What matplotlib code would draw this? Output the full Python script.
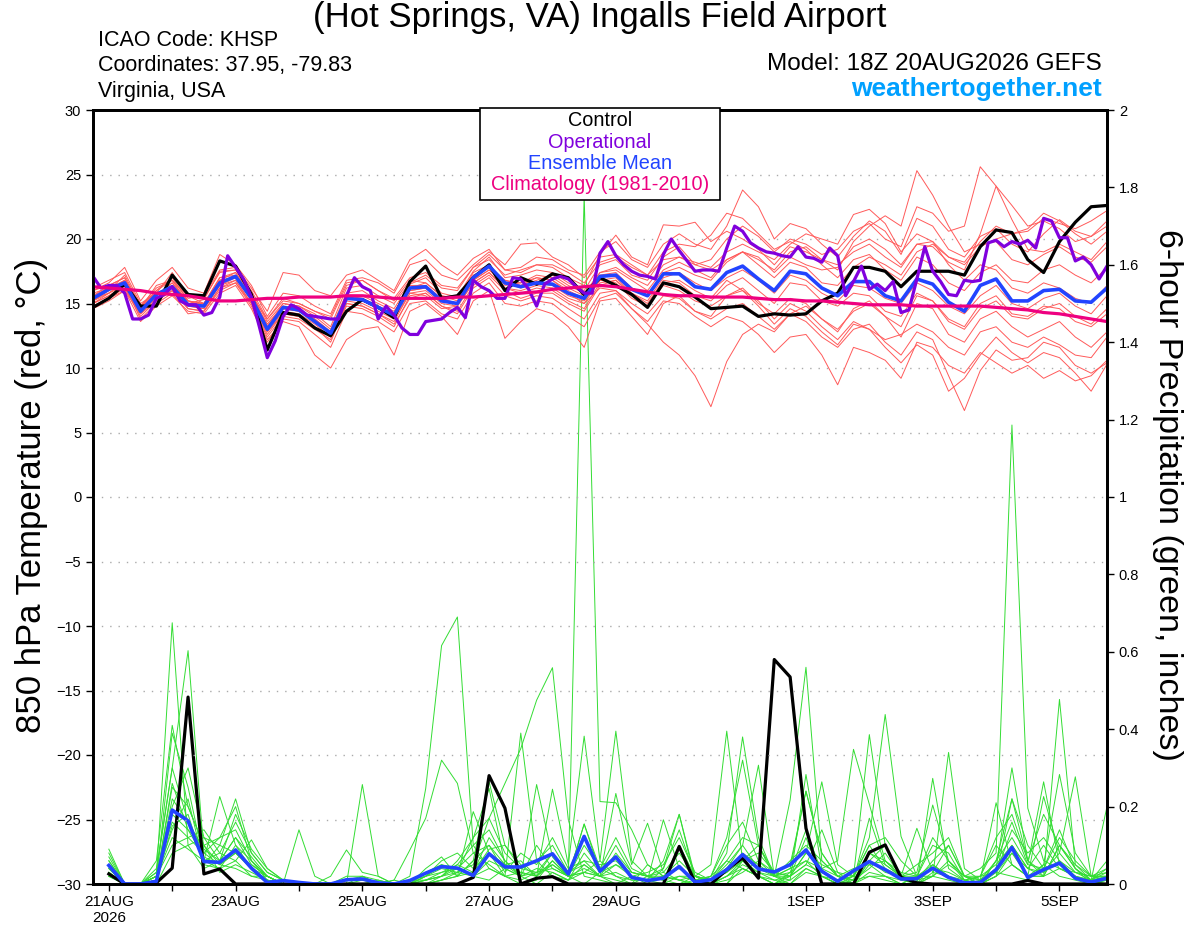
import numpy as np
import pandas as pd
import matplotlib
matplotlib.use("Agg")
import matplotlib.pyplot as plt
from matplotlib.patches import Rectangle

plt.rcParams['font.family'] = ['Liberation Sans', 'DejaVu Sans']

# ---- time axes (GEFS 18Z 20AUG2026 run) ----
times_6h = pd.date_range("2026-08-20 18:00", periods=65, freq="6h")
times_3h = pd.date_range("2026-08-20 18:00", periods=129, freq="3h")
times_pcp = times_6h[1:]

tick_days = pd.date_range("2026-08-21", "2026-09-05", freq="D")
tick_labels = ["21AUG\n2026", "", "23AUG", "", "25AUG", "", "27AUG", "", "29AUG",
               "", "", "1SEP", "", "3SEP", "", "5SEP"]
temp_ticks = [-30, -25, -20, -15, -10, -5, 0, 5, 10, 15, 20, 25, 30]
pcp_ticks = [0, 0.2, 0.4, 0.6, 0.8, 1.0, 1.2, 1.4, 1.6, 1.8, 2.0]
pcp_tick_labels = ["0", "0.2", "0.4", "0.6", "0.8", "1", "1.2", "1.4", "1.6", "1.8", "2"]

# ---- 850 hPa temperature (C) ----
control_t = [14.7, 15.4, 16.5, 14.8, 14.8, 17.2, 15.7, 15.6, 18.3, 17.9, 15.7,
             11.4, 14.3, 14.1, 13.1, 12.5, 14.4, 15.3, 14.7, 13.9, 16.7, 17.9,
             15.4, 15.6, 17.0, 18.0, 16.0, 17.0, 16.5, 17.3, 17.0, 15.7, 17.0,
             16.4, 15.7, 14.7, 16.6, 16.3, 15.5, 14.6, 14.7, 14.8, 14.0, 14.2,
             14.1, 14.2, 15.2, 15.8, 17.8, 17.8, 17.5, 16.3, 17.5, 17.5, 17.5,
             17.2, 19.4, 20.7, 20.5, 18.4, 17.4, 19.8, 21.3, 22.5, 22.6]

mean_t = [15.4, 16.1, 16.6, 14.4, 15.7, 16.3, 14.9, 14.8, 16.6, 17.1, 15.4,
          13.0, 14.7, 14.5, 13.6, 12.7, 15.4, 15.3, 14.7, 14.1, 16.2, 16.3,
          15.2, 15.0, 17.0, 17.9, 16.6, 16.3, 16.6, 16.5, 15.8, 15.4, 17.1,
          17.2, 16.1, 15.6, 17.3, 17.3, 16.3, 16.1, 17.4, 17.9, 16.9, 16.0,
          17.5, 17.3, 16.2, 15.6, 16.7, 16.7, 15.6, 15.2, 16.9, 16.5, 15.1,
          14.4, 16.4, 16.9, 15.2, 15.2, 16.0, 16.1, 15.2, 15.1, 16.2]

clim_t = [16.3, 16.2, 16.1, 16.0, 15.8, 15.7, 15.6, 15.4, 15.2, 15.2, 15.3,
          15.4, 15.4, 15.5, 15.5, 15.5, 15.6, 15.6, 15.5, 15.4, 15.4, 15.4,
          15.4, 15.5, 15.5, 15.6, 15.7, 15.8, 15.9, 16.1, 16.2, 16.3, 16.4,
          16.3, 16.1, 15.9, 15.7, 15.6, 15.6, 15.5, 15.5, 15.5, 15.4, 15.3,
          15.3, 15.2, 15.2, 15.1, 15.0, 14.9, 14.9, 14.9, 14.8, 14.8, 14.8,
          14.8, 14.8, 14.7, 14.6, 14.5, 14.3, 14.2, 14.0, 13.8, 13.6]

# operational GFS, 3-hourly
oper_t = [17.1, 16.2, 16.4, 16.4, 15.8, 13.8, 13.8, 14.1, 15.4, 15.7,
          16.3, 15.2, 14.9, 14.9, 14.1, 14.3, 15.5, 18.7, 17.8, 16.9,
          15.5, 13.2, 10.8, 12.1, 14.0, 14.9, 14.6, 14.1, 14.0, 13.9,
          13.8, 13.8, 15.6, 17.0, 16.3, 16.0, 13.8, 14.8, 14.1, 13.1,
          12.6, 12.6, 13.6, 13.7, 13.8, 14.3, 14.7, 13.9, 16.8, 16.3,
          16.0, 15.4, 15.4, 17.0, 16.9, 16.1, 14.8, 16.5, 16.9, 17.1,
          16.9, 16.3, 15.8, 15.8, 18.9, 19.8, 18.7, 18.0, 17.5, 17.2,
          17.1, 16.9, 18.8, 20.0, 19.1, 18.3, 17.5, 17.6, 17.6, 17.5,
          19.3, 21.0, 20.6, 19.7, 19.3, 19.0, 18.9, 18.7, 18.6, 19.4,
          18.6, 18.5, 18.2, 19.3, 18.7, 15.6, 16.7, 17.9, 16.1, 16.5,
          16.0, 16.7, 14.3, 14.5, 16.9, 19.4, 17.5, 16.7, 15.7, 15.6,
          16.8, 16.7, 16.8, 19.7, 19.9, 19.4, 19.8, 19.6, 19.9, 19.3,
          21.6, 21.4, 20.1, 20.1, 18.3, 18.6, 18.0, 16.9, 17.9]

member_t = [
    [15.2, 16.0, 17.2, 14.8, 16.0, 16.8, 15.0, 15.3, 17.5, 17.6, 15.8,
     13.2, 15.0, 14.8, 14.0, 13.0, 15.8, 16.0, 15.2, 14.6, 16.5, 17.0,
     15.8, 15.5, 17.5, 18.6, 17.0, 17.2, 17.6, 17.4, 16.6, 16.0, 18.0,
     18.4, 17.2, 16.8, 18.6, 19.4, 18.0, 18.4, 20.0, 21.0, 20.2, 19.0,
     20.0, 19.6, 18.8, 19.2, 20.6, 21.2, 20.0, 19.4, 22.5, 22.0, 20.6,
     21.0, 25.6, 24.1, 22.6, 21.0, 21.4, 20.8, 19.8, 20.2, 21.0],
    [15.0, 15.6, 16.2, 14.2, 15.2, 16.0, 14.6, 14.4, 16.2, 16.8, 15.0,
     12.4, 14.0, 13.8, 13.0, 12.2, 14.8, 14.6, 14.0, 13.2, 15.6, 15.8,
     14.8, 14.2, 16.2, 17.0, 15.6, 15.2, 15.6, 15.4, 14.6, 13.8, 15.8,
     16.0, 15.0, 14.2, 15.6, 15.4, 14.4, 13.8, 14.6, 15.0, 14.0, 13.0,
     14.2, 13.6, 12.4, 11.6, 13.0, 13.4, 12.0, 11.0, 12.8, 12.2, 9.4,
     6.7, 9.8, 11.4, 10.6, 10.8, 12.0, 11.6, 10.2, 9.6, 10.4],
    [16.2, 16.8, 17.4, 15.0, 15.8, 17.4, 15.6, 15.0, 17.0, 17.2, 15.6,
     13.8, 15.4, 15.0, 14.4, 13.8, 16.4, 16.8, 16.0, 15.2, 16.8, 16.6,
     15.6, 15.2, 17.4, 18.0, 16.4, 16.6, 17.0, 16.8, 15.8, 15.0, 16.2,
     16.0, 14.6, 13.4, 12.0, 11.0, 9.4, 7.0, 10.5, 12.6, 13.4, 12.8,
     14.2, 14.8, 13.8, 13.0, 14.4, 15.0, 14.0, 13.2, 15.6, 15.2, 13.6,
     13.0, 14.6, 15.2, 14.0, 13.8, 14.6, 15.0, 14.0, 13.4, 14.6],
    [15.6, 16.4, 17.0, 14.6, 16.4, 16.8, 15.4, 15.6, 17.6, 17.8, 16.2,
     14.4, 17.4, 17.2, 16.0, 15.6, 17.2, 17.6, 16.8, 16.0, 18.4, 19.2,
     18.0, 17.2, 18.5, 19.2, 17.6, 17.8, 18.6, 18.4, 17.6, 17.2, 19.0,
     19.8, 18.4, 17.8, 19.6, 20.4, 19.6, 19.2, 21.0, 23.8, 22.5, 20.0,
     21.2, 20.8, 19.6, 18.6, 20.2, 21.4, 20.6, 18.8, 21.6, 21.0, 19.2,
     18.6, 20.2, 20.8, 19.6, 19.0, 20.4, 21.5, 20.6, 20.2, 21.4],
    [15.0, 15.8, 16.4, 13.8, 15.0, 15.8, 14.2, 14.4, 16.0, 16.6, 14.8,
     12.2, 13.6, 13.2, 11.0, 10.0, 12.2, 13.0, 13.2, 11.0, 14.4, 15.0,
     14.0, 12.6, 15.2, 16.0, 12.3, 13.6, 14.6, 14.2, 13.2, 11.6, 15.2,
     15.4, 14.0, 12.6, 15.0, 15.6, 14.4, 14.0, 15.6, 16.2, 15.0, 14.2,
     15.4, 15.0, 13.8, 12.8, 14.6, 15.2, 14.0, 12.4, 15.0, 14.6, 12.6,
     12.0, 13.8, 14.4, 13.2, 12.4, 13.0, 13.6, 12.4, 11.6, 12.8],
    [15.8, 16.2, 16.8, 14.8, 15.6, 16.6, 15.2, 14.8, 16.8, 17.4, 15.6,
     13.4, 14.8, 14.6, 13.8, 12.8, 15.6, 15.4, 14.8, 14.2, 16.4, 16.4,
     15.4, 15.0, 17.0, 17.8, 16.8, 16.4, 16.8, 17.2, 16.4, 15.8, 17.4,
     17.6, 16.8, 16.0, 17.6, 18.2, 17.6, 17.0, 18.4, 19.0, 18.6, 17.4,
     18.6, 18.0, 17.6, 17.8, 19.4, 20.0, 19.2, 18.0, 19.6, 19.8, 18.6,
     18.2, 19.8, 21.0, 20.4, 20.6, 21.6, 21.2, 20.8, 21.4, 22.2],
    [14.6, 15.2, 16.0, 14.2, 15.8, 16.2, 14.8, 14.6, 16.4, 16.8, 15.0,
     12.8, 14.2, 14.0, 13.2, 12.4, 15.0, 14.8, 14.2, 13.6, 15.8, 15.6,
     14.6, 14.8, 16.6, 17.4, 16.2, 15.8, 16.2, 16.0, 15.2, 14.6, 16.6,
     16.8, 15.6, 14.8, 16.4, 16.0, 15.2, 14.8, 15.6, 16.0, 15.2, 13.8,
     15.0, 14.4, 13.2, 12.2, 13.6, 13.0, 11.6, 10.4, 11.8, 11.0, 8.2,
     9.2, 11.0, 12.4, 11.2, 10.4, 11.2, 10.8, 9.6, 8.2, 10.3],
    [15.4, 15.8, 16.6, 14.4, 15.4, 16.4, 15.0, 15.0, 16.8, 17.0, 15.4,
     13.0, 14.6, 14.4, 13.6, 12.8, 15.4, 15.2, 14.6, 14.0, 16.0, 16.2,
     15.2, 15.0, 16.8, 17.6, 16.6, 16.4, 17.0, 16.8, 16.0, 15.4, 17.2,
     17.4, 16.2, 15.6, 17.4, 17.8, 17.2, 16.8, 18.2, 19.0, 18.4, 17.6,
     19.0, 19.4, 18.4, 17.6, 19.8, 21.0, 21.8, 21.0, 25.3, 23.4, 21.0,
     19.0, 19.6, 19.8, 18.4, 18.0, 18.8, 19.4, 18.6, 18.2, 19.4],
    [16.0, 16.6, 17.8, 15.2, 16.8, 17.8, 16.2, 15.8, 18.8, 18.0, 16.4,
     14.0, 15.8, 15.6, 14.8, 14.2, 16.8, 17.0, 16.6, 15.8, 18.0, 18.4,
     17.2, 16.8, 18.0, 19.0, 18.0, 19.6, 19.7, 18.6, 18.0, 17.0, 18.6,
     18.8, 18.0, 17.2, 19.0, 19.6, 19.4, 20.3, 22.0, 21.6, 20.4, 19.2,
     19.8, 19.2, 18.0, 17.0, 18.4, 18.8, 17.6, 16.8, 18.6, 18.0, 16.6,
     16.0, 17.4, 18.0, 16.8, 16.6, 17.6, 18.0, 17.2, 16.6, 17.8],
    [14.8, 15.4, 16.0, 13.6, 14.8, 15.6, 14.4, 14.2, 15.8, 16.4, 14.6,
     12.0, 13.8, 13.6, 12.6, 11.6, 14.4, 14.2, 13.6, 12.8, 15.0, 15.2,
     14.2, 13.8, 15.8, 16.6, 15.0, 14.8, 15.2, 15.0, 14.0, 13.2, 15.4,
     15.8, 14.6, 13.6, 15.2, 15.0, 14.0, 13.2, 14.0, 13.6, 12.6, 11.2,
     12.4, 12.6, 11.0, 8.7, 11.6, 11.2, 10.6, 9.2, 12.0, 11.6, 10.2,
     9.6, 11.2, 10.4, 9.6, 10.2, 9.2, 9.8, 9.0, 9.4, 10.6],
    [15.2, 15.8, 16.8, 14.6, 16.0, 17.0, 15.2, 15.0, 17.0, 17.4, 15.8,
     13.6, 15.0, 14.8, 14.2, 13.2, 16.2, 16.4, 15.6, 15.0, 16.6, 17.2,
     16.2, 16.0, 17.8, 18.4, 17.2, 17.6, 18.0, 17.8, 17.0, 16.4, 18.8,
     20.3, 18.6, 18.0, 21.1, 21.0, 21.3, 19.8, 20.6, 20.0, 19.2, 18.0,
     19.4, 19.0, 18.4, 18.0, 19.0, 19.6, 18.6, 17.8, 19.6, 19.4, 18.2,
     17.6, 20.4, 24.1, 21.5, 19.2, 19.0, 19.6, 19.0, 18.4, 19.8],
    [15.6, 16.2, 16.6, 14.2, 15.4, 16.2, 14.8, 14.6, 16.4, 17.0, 15.2,
     12.8, 14.4, 14.2, 13.4, 12.4, 15.2, 15.0, 14.4, 13.8, 15.8, 16.0,
     15.0, 14.8, 16.6, 17.4, 16.2, 16.0, 16.4, 16.2, 15.4, 15.0, 16.8,
     17.0, 15.8, 15.0, 16.8, 16.6, 15.6, 15.2, 16.4, 17.0, 16.0, 15.0,
     16.6, 16.4, 15.2, 14.8, 15.8, 15.6, 14.4, 14.0, 15.8, 15.2, 13.8,
     13.2, 15.0, 15.6, 14.2, 14.0, 14.8, 14.6, 13.6, 13.2, 14.2],
    [15.0, 15.6, 16.4, 14.4, 15.6, 16.6, 15.0, 14.8, 16.6, 17.2, 15.4,
     13.2, 14.6, 14.4, 13.8, 12.8, 15.6, 15.6, 15.0, 14.4, 16.2, 16.6,
     15.6, 15.4, 17.2, 17.8, 16.8, 16.6, 17.2, 17.0, 16.2, 15.6, 17.4,
     17.8, 17.0, 16.4, 18.0, 18.6, 18.2, 17.8, 19.0, 19.6, 19.0, 18.4,
     19.6, 20.4, 20.0, 19.6, 21.9, 22.3, 21.2, 19.0, 20.4, 19.8, 18.0,
     16.8, 18.0, 17.6, 16.2, 15.8, 16.6, 16.2, 15.4, 15.0, 16.4],
    [15.4, 16.0, 16.8, 14.6, 15.8, 16.4, 15.2, 15.0, 16.8, 17.0, 15.4,
     13.4, 14.8, 14.4, 13.6, 12.8, 15.4, 15.2, 14.8, 14.0, 16.0, 16.2,
     15.2, 15.0, 16.8, 17.6, 16.6, 16.2, 16.6, 16.4, 15.6, 15.2, 16.8,
     16.6, 15.4, 14.8, 16.6, 16.8, 16.0, 15.4, 16.8, 16.0, 14.8, 13.4,
     14.6, 14.0, 12.8, 11.8, 13.4, 13.0, 12.2, 12.6, 13.4, 12.8, 11.6,
     11.0, 12.8, 13.2, 12.0, 11.6, 12.4, 11.8, 11.0, 10.8, 12.4],
    [16.0, 16.4, 17.0, 14.8, 16.2, 16.8, 15.6, 15.4, 17.4, 17.6, 16.0,
     13.8, 15.2, 15.0, 14.4, 14.0, 16.6, 16.8, 16.0, 15.4, 17.0, 17.4,
     16.4, 16.2, 17.8, 18.8, 17.6, 17.4, 18.0, 18.0, 17.4, 16.6, 18.2,
     18.6, 17.8, 17.2, 18.4, 18.6, 18.0, 17.6, 18.4, 19.0, 18.0, 17.0,
     18.2, 17.8, 16.6, 16.4, 17.8, 18.6, 18.0, 17.2, 19.0, 19.6, 18.6,
     18.0, 19.4, 20.0, 20.4, 20.8, 22.0, 21.4, 20.4, 19.6, 20.6],
    [14.8, 15.4, 16.2, 14.0, 15.2, 16.0, 14.6, 14.4, 16.2, 16.6, 15.0,
     12.6, 14.2, 14.0, 13.2, 12.0, 15.0, 14.8, 14.2, 13.4, 15.4, 15.8,
     14.8, 14.4, 16.4, 17.2, 16.0, 15.4, 15.8, 15.8, 15.0, 14.4, 16.4,
     16.8, 15.8, 15.2, 17.0, 17.4, 16.6, 16.0, 17.0, 17.6, 16.8, 15.8,
     17.2, 16.8, 15.8, 15.2, 16.4, 16.2, 15.4, 15.0, 16.6, 16.0, 14.8,
     14.2, 15.6, 16.4, 15.0, 14.6, 15.4, 15.8, 14.8, 14.2, 15.6],
]

# ---- 6-hour precipitation (inches), valid 00Z 21AUG onward ----
control_p = [0.026, 0, 0, 0.003, 0.041, 0.483, 0.026, 0.039, 0, 0, 0, 0, 0, 0, 0, 0,
             0, 0, 0, 0, 0, 0, 0, 0.017, 0.28, 0.196, 0, 0.015, 0.019, 0, 0, 0,
             0, 0, 0, 0, 0.097, 0.003, 0, 0.037, 0.067, 0.015, 0.58, 0.535, 0.144, 0, 0, 0,
             0.082, 0.101, 0.017, 0.003, 0, 0, 0, 0, 0, 0, 0.009, 0, 0, 0, 0, 0]

mean_p = [0.048, 0, 0, 0.007, 0.191, 0.163, 0.058, 0.056, 0.088, 0.041, 0.004, 0.009, 0.004, 0, 0, 0.011,
          0.013, 0.003, 0, 0.009, 0.028, 0.045, 0.041, 0.022, 0.078, 0.044, 0.044, 0.060, 0.078, 0.026, 0.123, 0.033,
          0.070, 0.017, 0.009, 0.015, 0.045, 0.005, 0.011, 0.037, 0.076, 0.039, 0.031, 0.050, 0.088, 0.033, 0.007, 0.034,
          0.058, 0.037, 0.013, 0.014, 0.041, 0.017, 0.003, 0.004, 0.037, 0.094, 0.017, 0.037, 0.054, 0.015, 0.005, 0.015]

member_p = [
    [0.05, 0, 0, 0.02, 0.675, 0.1, 0.04, 0.06, 0.12, 0.05, 0.02, 0, 0, 0, 0, 0,
     0, 0, 0, 0, 0, 0.02, 0.05, 0.03, 0.12, 0.06, 0.02, 0, 0.03, 0.01, 0.05, 0.02,
     0, 0, 0, 0.04, 0.18, 0.02, 0, 0, 0.06, 0.1, 0.02, 0, 0.04, 0.02, 0, 0,
     0.05, 0.02, 0, 0, 0.03, 0.1, 0.02, 0, 0.04, 0.3, 0.06, 0.02, 0.1, 0.04, 0, 0.02],
    [0.08, 0, 0, 0.04, 0.3, 0.603, 0.08, 0.12, 0.2, 0.06, 0.01, 0, 0, 0, 0, 0,
     0.02, 0, 0, 0, 0.04, 0.07, 0.02, 0.06, 0.264, 0.1, 0.04, 0.03, 0.08, 0.02, 0.155, 0.04,
     0.02, 0, 0.05, 0.02, 0.01, 0, 0.02, 0.12, 0.32, 0.1, 0.03, 0.05, 0.24, 0.08, 0.02, 0,
     0.06, 0.03, 0.02, 0, 0.05, 0.02, 0, 0.02, 0.1, 0.05, 0.02, 0.226, 0.08, 0.03, 0.01, 0.04],
    [0.03, 0, 0, 0.06, 0.41, 0.2, 0.1, 0.05, 0.08, 0.04, 0.02, 0, 0.14, 0.02, 0, 0,
     0, 0, 0, 0.02, 0.247, 0.616, 0.69, 0.1, 0.04, 0.02, 0, 0.01, 0.06, 0.02, 0, 0.03,
     0.05, 0.02, 0, 0, 0.02, 0.01, 0, 0, 0.04, 0.02, 0, 0.03, 0.06, 0.02, 0, 0.01,
     0.17, 0.05, 0.02, 0, 0.02, 0.06, 0.01, 0, 0.02, 0.08, 0.04, 0.1, 0.04, 0.02, 0, 0.01],
    [0.06, 0, 0, 0.01, 0.39, 0.25, 0.06, 0.226, 0.1, 0.04, 0.01, 0, 0, 0, 0, 0.02,
     0.02, 0, 0.01, 0.088, 0.17, 0.32, 0.26, 0.08, 0.05, 0.02, 0.39, 0.06, 0.02, 0.01, 0.03, 0.02,
     0.01, 0, 0.02, 0.01, 0, 0.02, 0.05, 0.395, 0.06, 0.02, 0, 0.02, 0.05, 0.14, 0.03, 0,
     0.02, 0.01, 0, 0.02, 0.05, 0.02, 0, 0.01, 0.21, 0.05, 0.02, 0.02, 0.477, 0.05, 0.01, 0],
    [0.04, 0, 0, 0.02, 0.2, 0.3, 0.12, 0.1, 0.22, 0.08, 0.03, 0.01, 0, 0, 0, 0,
     0, 0, 0, 0, 0.01, 0.02, 0.03, 0.12, 0.17, 0.26, 0.35, 0.475, 0.559, 0.166, 0.02, 0.01,
     0, 0.02, 0.01, 0, 0, 0.01, 0, 0.02, 0.06, 0.03, 0.01, 0, 0.03, 0.02, 0, 0.02,
     0.386, 0.1, 0.02, 0, 0.02, 0.01, 0, 0, 0.03, 0.02, 0.01, 0.05, 0.02, 0.01, 0, 0.02],
    [0.02, 0, 0, 0.01, 0.15, 0.18, 0.05, 0.04, 0.06, 0.114, 0.04, 0.01, 0, 0, 0, 0,
     0.257, 0.02, 0, 0, 0.02, 0.04, 0.03, 0.02, 0.06, 0.04, 0.02, 0.03, 0.05, 0.02, 1.78, 0.213,
     0.21, 0.14, 0.05, 0.02, 0.01, 0, 0, 0.02, 0.04, 0.02, 0, 0.01, 0.04, 0.02, 0, 0,
     0.03, 0.02, 0, 0.02, 0.04, 0.02, 0, 0, 0.02, 0.05, 0.02, 0.02, 0.04, 0.02, 0, 0.01],
    [0.05, 0, 0, 0.02, 0.1, 0.12, 0.08, 0.05, 0.04, 0.02, 0.01, 0, 0, 0, 0.02, 0.088,
     0.03, 0.02, 0, 0, 0, 0.01, 0.02, 0.187, 0.08, 0.02, 0.03, 0.02, 0.245, 0.05, 0.382, 0.06,
     0.395, 0.06, 0.02, 0.01, 0.02, 0.02, 0.01, 0.08, 0.38, 0.12, 0.02, 0.01, 0.283, 0.04, 0.02, 0.01,
     0.02, 0.02, 0.01, 0, 0.273, 0.04, 0.01, 0, 0.06, 0.12, 0.05, 0.264, 0.05, 0.02, 0.01, 0.2],
    [0.02, 0, 0, 0.01, 0.25, 0.2, 0.1, 0.03, 0.05, 0.03, 0.01, 0, 0, 0, 0, 0,
     0, 0, 0, 0.01, 0.02, 0.03, 0.04, 0.02, 0.01, 0.04, 0.02, 0.257, 0.07, 0.02, 0.04, 0.02,
     0.234, 0.05, 0.157, 0.03, 0.01, 0.02, 0.01, 0.04, 0.1, 0.307, 0.02, 0.217, 0.56, 0.06, 0.02, 0.01,
     0.08, 0.05, 0.02, 0.01, 0.02, 0.34, 0.04, 0.01, 0.03, 0.08, 0.02, 0.05, 0.283, 0.08, 0.02, 0.03],
    [0.09, 0, 0, 0.02, 0.18, 0.14, 0.07, 0.05, 0.08, 0.05, 0.02, 0, 0, 0, 0, 0.01,
     0.02, 0.01, 0, 0, 0.02, 0.05, 0.04, 0.02, 0.04, 0.02, 0.01, 0.03, 0.04, 0.02, 0.03, 0.06,
     0.02, 0.01, 0.01, 0.166, 0.04, 0.01, 0.02, 0.06, 0.04, 0.02, 0.01, 0.02, 0.08, 0.264, 0.05, 0.02,
     0.12, 0.438, 0.123, 0.02, 0.02, 0.05, 0.02, 0.04, 0.08, 1.186, 0.196, 0.06, 0.04, 0.03, 0.02, 0.01],
    [0.03, 0, 0, 0.02, 0.12, 0.09, 0.06, 0.04, 0.1, 0.06, 0.02, 0, 0, 0, 0, 0,
     0, 0, 0, 0, 0.01, 0.02, 0.06, 0.118, 0.247, 0.05, 0.03, 0.02, 0.06, 0.02, 0.155, 0.03,
     0.07, 0.02, 0.01, 0.06, 0.18, 0.01, 0, 0.02, 0.05, 0.03, 0.02, 0.04, 0.06, 0.04, 0.06, 0.348,
     0.206, 0.06, 0.02, 0.144, 0.03, 0.02, 0.01, 0.02, 0.05, 0.1, 0.04, 0.03, 0.08, 0.277, 0.02, 0.01],
    [0.04, 0, 0, 0.01, 0.22, 0.16, 0.09, 0.06, 0.12, 0.07, 0.02, 0, 0, 0, 0, 0,
     0, 0, 0, 0, 0, 0.01, 0.03, 0.05, 0.17, 0.08, 0.04, 0.06, 0.1, 0.03, 0.06, 0.02,
     0.05, 0.03, 0.02, 0.02, 0.06, 0.02, 0.01, 0.03, 0.08, 0.05, 0.02, 0.04, 0.24, 0.08, 0.02, 0.01,
     0.04, 0.08, 0.02, 0.03, 0.204, 0.06, 0.02, 0.01, 0.04, 0.1, 0.04, 0.02, 0.1, 0.05, 0.02, 0.04],
    [0.06, 0, 0, 0.03, 0.3, 0.16, 0.06, 0.08, 0.16, 0.08, 0.03, 0.01, 0, 0, 0, 0,
     0.01, 0, 0, 0, 0.02, 0.06, 0.08, 0.04, 0.08, 0.05, 0.02, 0.04, 0.03, 0.01, 0.08, 0.03,
     0.1, 0.03, 0.02, 0.01, 0.1, 0.02, 0, 0.01, 0.03, 0.06, 0.02, 0.03, 0.14, 0.03, 0.01, 0,
     0.06, 0.1, 0.02, 0.01, 0.06, 0.1, 0.02, 0.02, 0.12, 0.18, 0.06, 0.03, 0.06, 0.03, 0.02, 0.02],
    [0.02, 0, 0, 0, 0.08, 0.1, 0.12, 0.06, 0.18, 0.09, 0.04, 0.01, 0, 0, 0, 0,
     0, 0, 0.01, 0, 0, 0.01, 0.02, 0.03, 0.09, 0.1, 0.05, 0.02, 0.05, 0.02, 0.03, 0.02,
     0.03, 0.01, 0.01, 0.02, 0.04, 0.01, 0.02, 0.1, 0.16, 0.06, 0.03, 0.02, 0.05, 0.03, 0.01, 0.02,
     0.1, 0.04, 0.02, 0.02, 0.04, 0.03, 0.01, 0, 0.02, 0.22, 0.1, 0.04, 0.14, 0.04, 0.01, 0.03],
    [0.07, 0, 0, 0.02, 0.14, 0.22, 0.05, 0.1, 0.08, 0.04, 0.01, 0, 0, 0, 0, 0,
     0, 0, 0, 0.01, 0.01, 0.03, 0.05, 0.1, 0.14, 0.06, 0.02, 0.1, 0.04, 0.02, 0.1, 0.04,
     0.12, 0.04, 0.02, 0.03, 0.08, 0.02, 0.01, 0.05, 0.1, 0.04, 0.02, 0.06, 0.1, 0.06, 0.02, 0.04,
     0.05, 0.06, 0.03, 0.02, 0.1, 0.08, 0.01, 0.02, 0.03, 0.14, 0.08, 0.12, 0.06, 0.02, 0.01, 0.06],
    [0.05, 0, 0, 0.03, 0.16, 0.12, 0.14, 0.08, 0.06, 0.02, 0.02, 0, 0, 0, 0, 0,
     0, 0.01, 0, 0, 0.03, 0.05, 0.02, 0.06, 0.1, 0.03, 0.08, 0.05, 0.12, 0.04, 0.06, 0.05,
     0.06, 0.02, 0.03, 0.05, 0.12, 0.03, 0.01, 0.03, 0.06, 0.08, 0.03, 0.02, 0.08, 0.05, 0.03, 0.02,
     0.08, 0.06, 0.02, 0.05, 0.08, 0.12, 0.02, 0.01, 0.06, 0.16, 0.05, 0.04, 0.12, 0.06, 0.02, 0.02],
    [0.03, 0, 0, 0.01, 0.26, 0.14, 0.1, 0.12, 0.14, 0.06, 0.02, 0, 0, 0, 0, 0,
     0, 0, 0, 0, 0.01, 0.02, 0.04, 0.08, 0.1, 0.05, 0.06, 0.02, 0.08, 0.03, 0.05, 0.02,
     0.08, 0.03, 0.02, 0.04, 0.14, 0.02, 0.01, 0.06, 0.12, 0.1, 0.02, 0.02, 0.12, 0.02, 0.01, 0.02,
     0.1, 0.12, 0.06, 0.02, 0.12, 0.06, 0.02, 0, 0.06, 0.22, 0.06, 0.18, 0.1, 0.04, 0.01, 0.02],
]

# ---- colours ----
c_member_t = "#ff5a5a"
c_member_p = "#33dd33"
c_oper = "#8000dd"
c_mean = "#2244ff"
c_clim = "#ee0080"

fig = plt.figure(figsize=(12, 9.27), dpi=100)
ax = fig.add_axes([93 / 1200, 43 / 927, 1014 / 1200, 774 / 927])
ax2 = ax.twinx()

# precipitation on right axis (drawn underneath)
for m in member_p:
    ax2.plot(times_pcp, m, color=c_member_p, lw=0.7)
ax2.plot(times_pcp, control_p, color="black", lw=2.3)
ax2.plot(times_pcp, mean_p, color=c_mean, lw=2.6)
ax2.set_ylim(0, 2)
ax2.set_yticks(pcp_ticks)
ax2.set_yticklabels(pcp_tick_labels)

# temperatures on left axis
ax.set_zorder(ax2.get_zorder() + 1)
ax.patch.set_visible(False)
for g in temp_ticks[1:-1]:
    ax.axhline(g, color="#aaaaaa", lw=1, ls=(0, (1, 5)), zorder=0)
for m in member_t:
    ax.plot(times_6h, m, color=c_member_t, lw=0.7)
ax.plot(times_6h, control_t, color="black", lw=2.3)
ax.plot(times_6h, mean_t, color=c_mean, lw=2.6)
ax.plot(times_3h, oper_t, color=c_oper, lw=2.3)
ax.plot(times_6h, clim_t, color=c_clim, lw=2.3)

ax.set_ylim(-30, 30)
ax.set_yticks(temp_ticks)
ax.set_xlim(times_6h[0], times_6h[-1])
ax.set_xticks(tick_days)
ax.set_xticklabels(tick_labels)

for a in (ax, ax2):
    for s in a.spines.values():
        s.set_linewidth(2)
    a.tick_params(labelsize=10.5, length=5, width=1, direction="out")
ax.tick_params(axis="x", labelsize=11, pad=3)

# axis titles
fig.text(32 / 1200, 1 - 495 / 927, "850 hPa Temperature (red, °C)",
         rotation=90, ha="center", va="center", size=25)
fig.text(1168 / 1200, 1 - 495 / 927, "6-hour Precipitation (green, inches)",
         rotation=270, ha="center", va="center", size=24.5)

# header text
fig.text(0.5, 1 - 18 / 927, "(Hot Springs, VA) Ingalls Field Airport",
         ha="center", va="center", size=25)
fig.text(98 / 1200, 1 - 40 / 927, "ICAO Code: KHSP", ha="left", va="center", size=15.5)
fig.text(98 / 1200, 1 - 66 / 927, "Coordinates: 37.95, -79.83", ha="left", va="center", size=15.5)
fig.text(98 / 1200, 1 - 92 / 927, "Virginia, USA", ha="left", va="center", size=15.5)
fig.text(1102 / 1200, 1 - 64 / 927, "Model: 18Z 20AUG2026 GEFS", ha="right", va="center", size=17.5)
fig.text(1102 / 1200, 1 - 89 / 927, "weathertogether.net", ha="right", va="center",
         size=19, weight="bold", color="#00a0ff")

# legend box
fig.patches.append(Rectangle((480 / 1200, 1 - 200 / 927), 240 / 1200, 92 / 927,
                             transform=fig.transFigure, facecolor="white",
                             edgecolor="black", lw=1.2, zorder=5))
legend_items = [("Control", "black"), ("Operational", c_oper),
                ("Ensemble Mean", c_mean), ("Climatology (1981-2010)", c_clim)]
for k, (txt, col) in enumerate(legend_items):
    fig.text(600 / 1200, 1 - (121 + 21.3 * k) / 927, txt, ha="center", va="center",
             size=14.3, color=col, zorder=6)

fig.savefig("out.png", dpi=100)
